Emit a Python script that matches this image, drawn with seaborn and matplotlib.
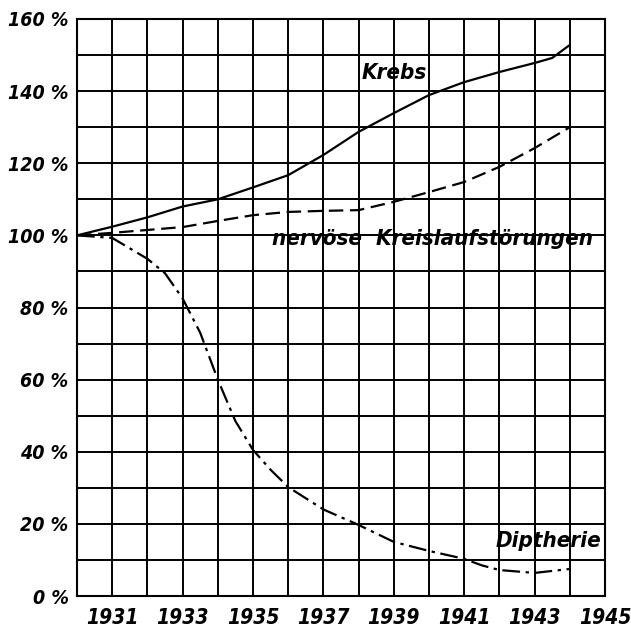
import pandas as pd
import matplotlib
matplotlib.use("Agg")
import matplotlib.pyplot as plt
from matplotlib import font_manager
import seaborn as sns

# Values (percent of 1930 level)
krebs_years = [1930, 1931, 1932, 1933, 1934, 1935, 1936, 1937, 1938, 1939,
               1940, 1941, 1942, 1943, 1943.5, 1944]
krebs = [100, 102.4, 105, 108, 110, 113.3, 116.7, 122.3, 128.7, 133.9,
         138.9, 142.5, 145.3, 147.8, 149.2, 152.8]

nerv_years = [1930, 1931, 1932, 1933, 1934, 1935, 1936, 1937, 1938, 1939,
              1940, 1941, 1942, 1943, 1944]
nerv = [100, 100.7, 101.5, 102.3, 104, 105.6, 106.5, 106.8, 107, 109.3,
        112, 114.8, 119, 124.2, 130]

diph_years = [1930, 1931, 1932, 1932.5, 1933, 1933.5, 1934, 1934.5, 1935,
              1935.5, 1936, 1937, 1938, 1939, 1940, 1941, 1941.5, 1942,
              1943, 1944]
diph = [100, 99.3, 93.5, 89.5, 82.5, 73, 60, 48.5, 40.5,
        35, 30.2, 24, 19.7, 15, 12.5, 10.3, 8.5, 7.2,
        6.4, 7.5]

x_labels = ["1931", "1933", "1935", "1937", "1939", "1941", "1943", "1945"]
y_labels = ["0 %", "20 %", "40 %", "60 %", "80 %", "100 %", "120 %", "140 %", "160 %"]

df = pd.concat([
    pd.DataFrame({"Jahr": krebs_years, "Wert": krebs, "Reihe": "Krebs"}),
    pd.DataFrame({"Jahr": nerv_years, "Wert": nerv, "Reihe": "Kreislauf"}),
    pd.DataFrame({"Jahr": diph_years, "Wert": diph, "Reihe": "Diptherie"}),
], ignore_index=True)

sns.set_style("white")
installed = {f.name for f in font_manager.fontManager.ttflist}
if "Liberation Sans Narrow" in installed:
    plt.rcParams["font.family"] = ["Liberation Sans Narrow", "DejaVu Sans"]
else:
    plt.rcParams["font.family"] = ["DejaVu Sans"]
    plt.rcParams["font.stretch"] = "condensed"
plt.rcParams["font.style"] = "italic"
plt.rcParams["font.weight"] = "bold"
plt.rcParams["text.color"] = "black"
plt.rcParams["xtick.color"] = "black"
plt.rcParams["ytick.color"] = "black"

fig = plt.figure(figsize=(6.31, 6.32), dpi=100)
ax = fig.add_axes([77 / 631, 1 - 596 / 632, 528 / 631, 577 / 632])

sns.lineplot(data=df, x="Jahr", y="Wert", style="Reihe", color="black",
             dashes={"Krebs": "", "Kreislauf": (6.5, 3), "Diptherie": (8, 2.5, 1.5, 2.5)},
             linewidth=1.6, legend=False, ax=ax)

ax.set_xlim(1930, 1945)
ax.set_ylim(0, 160)
ax.set_xticks(range(1930, 1946))
ax.set_xticklabels([""] + [lab if i % 2 == 0 else "" for i, lab in
                           enumerate(sum([[l, ""] for l in x_labels], [])[:-1])])
ax.set_yticks(range(0, 161, 10))
ax.set_yticklabels(sum([[l, ""] for l in y_labels], [])[:-1])
ax.tick_params(axis="x", length=0, pad=9, labelsize=15)
ax.tick_params(axis="y", length=0, pad=6, labelsize=14)
ax.grid(True, color="black", linewidth=1.4)
for s in ax.spines.values():
    s.set_color("black")
    s.set_linewidth(1.5)
ax.set_xlabel("")
ax.set_ylabel("")

ax.text(1939.0, 145, "Krebs", fontsize=16, ha="center", va="center")
ax.text(1940.1, 99, "nervöse  Kreislaufstörungen", fontsize=16, ha="center", va="center")
ax.text(1943.4, 15.3, "Diptherie", fontsize=16, ha="center", va="center")

fig.savefig("out.png", dpi=100, facecolor="white")
